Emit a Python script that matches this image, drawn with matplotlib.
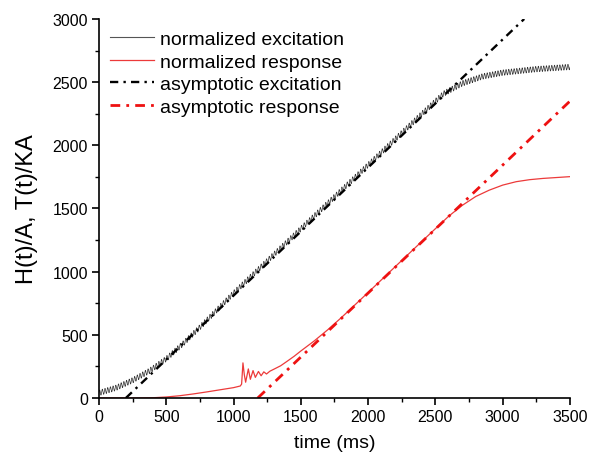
import numpy as np
import matplotlib
matplotlib.use("Agg")
import matplotlib.pyplot as plt

plt.rcParams['font.family'] = ['Liberation Sans', 'DejaVu Sans']

# normalized excitation: mean trend (ms, value)
exc_t = [0, 125, 250, 375, 500, 625, 750, 1000, 1500, 2000, 2400, 2560,
         2700, 2850, 3000, 3250, 3500]
exc_v = [40, 80, 140, 215, 310, 430, 560, 830, 1340, 1845, 2250, 2408,
         2490, 2545, 2575, 2603, 2620]
# the excitation carries a fast ripple (period and half height)
exc_ripple_period = 20.0
exc_ripple_amp = 22.0

# normalized response (ms, value)
resp_t = [0, 300, 400, 500, 600, 700, 800, 900, 1000, 1050, 1060, 1070,
          1080, 1090, 1110, 1125, 1145, 1162, 1185, 1205, 1225, 1245, 1270,
          1300, 1350, 1400, 1450, 1500, 1600, 1700, 1800, 1900, 2000, 2200,
          2400, 2600, 2700, 2800, 2900, 3000, 3100, 3200, 3300, 3400, 3500]
resp_v = [0, 0, 2, 8, 18, 32, 48, 65, 82, 95, 110, 278,
          185, 125, 230, 148, 217, 163, 210, 176, 207, 190, 212,
          228, 255, 292, 330, 372, 452, 540, 635, 735, 835, 1038,
          1240, 1440, 1525, 1595, 1645, 1685, 1712, 1728, 1738, 1745, 1752]

# asymptotes (start/end points in ms, value)
asym_exc_t = [200, 3160]
asym_exc_v = [0, 3000]
asym_resp_t = [1180, 3500]
asym_resp_v = [0, 2350]

fig = plt.figure(figsize=(5.89, 4.60), dpi=100)
ax = fig.add_axes([0.168, 0.1326, 0.7997, 0.824])

# excitation with its ripple
tt = np.arange(0, 3500.5, 1.0)
trend = np.interp(tt, exc_t, exc_v)
exc = trend + exc_ripple_amp * np.sin(2 * np.pi * tt / exc_ripple_period)

dashdot = (0, (3.5, 2.2, 1.0, 2.2))
ax.plot(tt, exc, color='#333333', lw=0.5, label='normalized excitation')
ax.plot(resp_t, resp_v, color='#ec3a3a', lw=0.9, label='normalized response')
ax.plot(asym_exc_t, asym_exc_v, color='black', lw=1.7,
        linestyle=dashdot, label='asymptotic excitation')
ax.plot(asym_resp_t, asym_resp_v, color='#ee1111', lw=2.0,
        linestyle=dashdot, label='asymptotic response')

ax.set_xlim(0, 3500)
ax.set_ylim(0, 3000)
ax.set_xticks(np.arange(0, 3501, 500))
ax.set_yticks(np.arange(0, 3001, 500))
ax.set_xticks(np.arange(250, 3500, 500), minor=True)
ax.set_yticks(np.arange(250, 3000, 500), minor=True)
ax.spines['top'].set_visible(False)
ax.spines['right'].set_visible(False)
for s in ['left', 'bottom']:
    ax.spines[s].set_linewidth(1.2)
ax.tick_params(which='major', direction='out', length=5, width=1.2,
               labelsize=11.5, colors='black', pad=3)
ax.tick_params(which='minor', direction='out', length=3, width=1.0)

ax.set_xlabel('time (ms)', fontsize=14, labelpad=7)
ax.set_ylabel('H(t)/A, T(t)/KA', fontsize=17, labelpad=10)

leg = ax.legend(loc='upper left', bbox_to_anchor=(0.006, 0.99),
                frameon=False, fontsize=14, handlelength=2.3,
                handletextpad=0.3, labelspacing=0.25, borderaxespad=0.0)
leg.legend_handles[0].set_linewidth(0.8)
leg.legend_handles[0].set_color('#555555')

fig.savefig('out.png', dpi=100)
